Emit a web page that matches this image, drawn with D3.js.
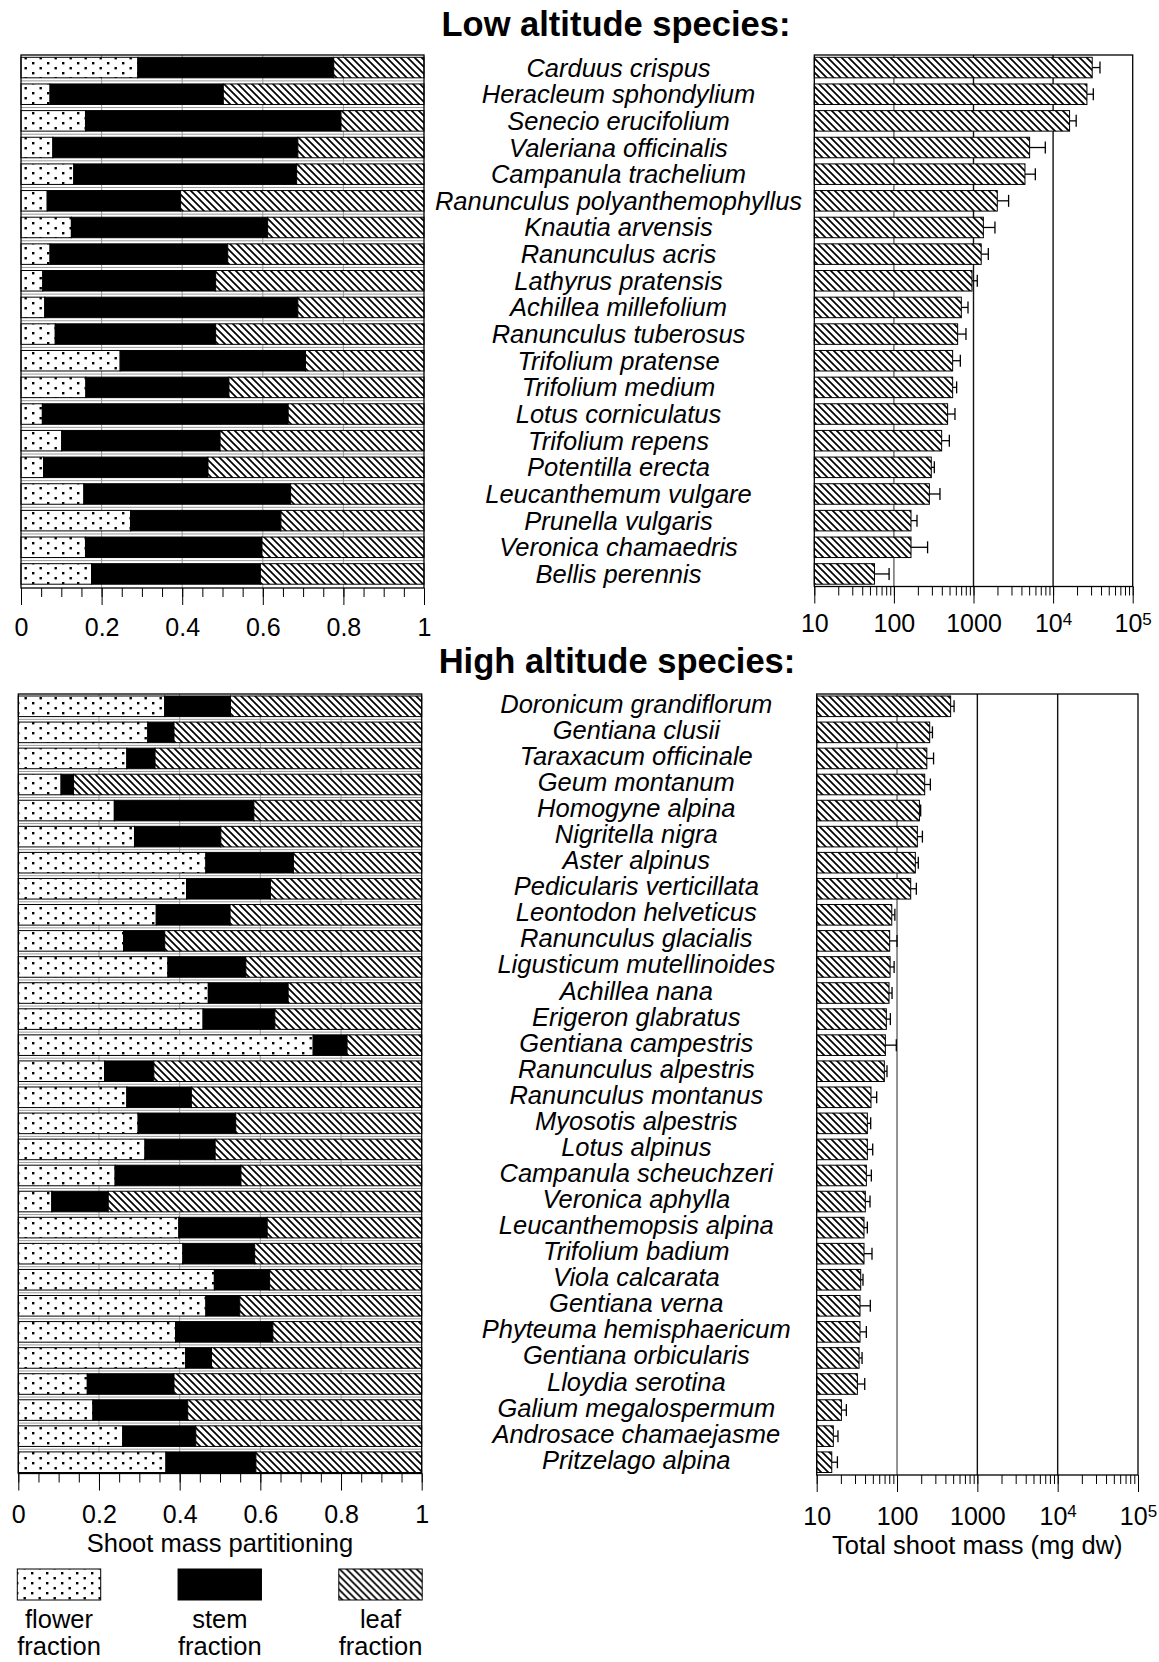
<!DOCTYPE html>
<html>
<head>
<meta charset="utf-8">
<script src="https://cdn.jsdelivr.net/npm/d3@7"></script>
<style>
  body { margin: 0; background: #fff; }
  svg text { font-family: "Liberation Sans", Arial, Helvetica, sans-serif; fill: #000; }
</style>
</head>
<body>
<div id="chart"></div>
<script>
/* ---- data: low altitude species ---- */
var lowNames = ["Carduus crispus", "Heracleum sphondylium", "Senecio erucifolium", "Valeriana officinalis",
  "Campanula trachelium", "Ranunculus polyanthemophyllus", "Knautia arvensis", "Ranunculus acris",
  "Lathyrus pratensis", "Achillea millefolium", "Ranunculus tuberosus", "Trifolium pratense",
  "Trifolium medium", "Lotus corniculatus", "Trifolium repens", "Potentilla erecta",
  "Leucanthemum vulgare", "Prunella vulgaris", "Veronica chamaedris", "Bellis perennis"];
var lowFlower = [0.290, 0.072, 0.160, 0.079, 0.131, 0.065, 0.125, 0.072, 0.054, 0.059,
  0.085, 0.246, 0.161, 0.053, 0.101, 0.056, 0.156, 0.272, 0.160, 0.175];
var lowStem = [0.486, 0.430, 0.634, 0.608, 0.553, 0.331, 0.487, 0.441, 0.429, 0.628,
  0.398, 0.460, 0.355, 0.610, 0.393, 0.408, 0.513, 0.373, 0.438, 0.419];
var lowLeaf = [0.224, 0.498, 0.206, 0.313, 0.316, 0.604, 0.388, 0.487, 0.517, 0.313,
  0.517, 0.294, 0.484, 0.337, 0.506, 0.536, 0.331, 0.355, 0.402, 0.406];
var lowMass = [31000, 26600, 16100, 5070, 4430, 1990, 1330, 1250, 957, 703,
  632, 547, 547, 473, 398, 295, 279, 164, 164, 57];
var lowMassHi = [38800, 32000, 19500, 7980, 5980, 2760, 1860, 1535, 1116, 853,
  804, 683, 614, 585, 497, 322, 379, 195, 265, 87];

/* ---- data: high altitude species ---- */
var highNames = ["Doronicum grandiflorum", "Gentiana clusii", "Taraxacum officinale", "Geum montanum",
  "Homogyne alpina", "Nigritella nigra", "Aster alpinus", "Pedicularis verticillata",
  "Leontodon helveticus", "Ranunculus glacialis", "Ligusticum mutellinoides", "Achillea nana",
  "Erigeron glabratus", "Gentiana campestris", "Ranunculus alpestris", "Ranunculus montanus",
  "Myosotis alpestris", "Lotus alpinus", "Campanula scheuchzeri", "Veronica aphylla",
  "Leucanthemopsis alpina", "Trifolium badium", "Viola calcarata", "Gentiana verna",
  "Phyteuma hemisphaericum", "Gentiana orbicularis", "Lloydia serotina", "Galium megalospermum",
  "Androsace chamaejasme", "Pritzelago alpina"];
var highFlower = [0.363, 0.321, 0.269, 0.106, 0.238, 0.288, 0.465, 0.417, 0.342, 0.261,
  0.371, 0.471, 0.458, 0.731, 0.214, 0.269, 0.297, 0.314, 0.240, 0.083,
  0.398, 0.408, 0.486, 0.465, 0.390, 0.415, 0.171, 0.185, 0.259, 0.366];
var highStem = [0.163, 0.065, 0.070, 0.031, 0.346, 0.214, 0.217, 0.208, 0.183, 0.102,
  0.193, 0.198, 0.178, 0.084, 0.122, 0.160, 0.242, 0.174, 0.312, 0.140,
  0.219, 0.178, 0.137, 0.084, 0.241, 0.064, 0.215, 0.235, 0.181, 0.223];
var highLeaf = [0.474, 0.614, 0.661, 0.863, 0.416, 0.498, 0.318, 0.375, 0.475, 0.637,
  0.436, 0.331, 0.364, 0.185, 0.664, 0.571, 0.461, 0.512, 0.448, 0.777,
  0.383, 0.414, 0.377, 0.451, 0.369, 0.521, 0.614, 0.580, 0.560, 0.411];
var highMass = [465, 255, 235, 221, 190, 179, 169, 148, 86, 81,
  82, 79.5, 73.6, 71.6, 69.5, 47.4, 42.7, 42.7, 41.5, 40.3,
  38.8, 38.8, 35.3, 34.6, 34.6, 33.7, 32.1, 20.3, 16.1, 15.4];
var highMassHi = [513, 276, 285, 260, 197, 207, 184, 174, 94, 100,
  92, 86.7, 82.6, 98, 75, 55.8, 47, 49.8, 47.9, 46.1,
  42.7, 48.8, 37.7, 46.5, 41.5, 36.7, 39.6, 23.4, 18.4, 18.1];

/* ---- ticks and legend ---- */
var fractionTicks = [0, 0.2, 0.4, 0.6, 0.8, 1];
var massTicks = [10, 100, 1000, 1e4, 1e5];
var massGrid = [100, 1000, 1e4];
var partKeys = ["flower", "stem", "leaf"];
var legendLines = [["flower", "fraction"], ["stem", "fraction"], ["leaf", "fraction"]];

var width = 1159, height = 1662;
var fills = ["url(#dots)", "#000", "url(#hatch)"];

var svg = d3.select("#chart").append("svg")
    .attr("width", width)
    .attr("height", height);

/* Patterns: dotted flower, diagonal hatch leaf */
var defs = svg.append("defs");
var dots = defs.append("pattern")
    .attr("id", "dots")
    .attr("patternUnits", "userSpaceOnUse")
    .attr("width", 15)
    .attr("height", 10);
dots.append("rect").attr("width", 15).attr("height", 10).attr("fill", "#fff");
dots.append("rect").attr("x", 2).attr("y", 2).attr("width", 2.4).attr("height", 2.4).attr("fill", "#000");
dots.append("rect").attr("x", 9.5).attr("y", 7).attr("width", 2.4).attr("height", 2.4).attr("fill", "#000");

var hatch = defs.append("pattern")
    .attr("id", "hatch")
    .attr("patternUnits", "userSpaceOnUse")
    .attr("width", 7)
    .attr("height", 7);
hatch.append("rect").attr("width", 7).attr("height", 7).attr("fill", "#fff");
hatch.append("path")
    .attr("d", "M-1,-1 L8,8 M-1,6 L1,8 M6,-1 L8,1")
    .attr("stroke", "#000")
    .attr("stroke-width", 1.7);

function styleAxis(g) {
    g.select(".domain").remove();
    g.attr("font-size", 25)
     .attr("font-family", "'Liberation Sans', Arial, sans-serif");
}

/* Draws one panel pair (partitioning + total mass) */
function section(cfg, names, flower, stem, leaf, mass, massHi) {
    var g = svg.append("g");

    var rows = names.map(function (n, i) {
        return { name: n, flower: flower[i], stem: stem[i], leaf: leaf[i], mass: mass[i], hi: massHi[i] };
    });

    var y = d3.scaleBand()
        .domain(names)
        .range([cfg.bandTop, cfg.bandBottom])
        .paddingInner(cfg.padIn)
        .paddingOuter(cfg.padOut);
    var xl = d3.scaleLinear().domain([0, 1]).range(cfg.leftRange);
    var xr = d3.scaleLog().domain([10, 1e5]).range(cfg.rightRange);

    /* Title */
    g.append("text")
        .attr("x", cfg.titleX)
        .attr("y", cfg.titleY)
        .attr("text-anchor", "middle")
        .style("font-size", "34.5px")
        .style("font-weight", "bold")
        .text(cfg.title);

    /* ---------- left: shoot mass partitioning ---------- */
    var left = g.append("g");

    left.selectAll("line.grid")
        .data(fractionTicks.slice(1, -1))
        .join("line")
        .attr("class", "grid")
        .attr("x1", function (d) { return xl(d); })
        .attr("x2", function (d) { return xl(d); })
        .attr("y1", cfg.frameTop)
        .attr("y2", cfg.leftAxisY)
        .attr("stroke", "#999")
        .attr("stroke-width", 1);

    var gap = (y.step() - y.bandwidth()) / 2;
    left.selectAll("line.sep")
        .data(names.slice(1))
        .join("line")
        .attr("class", "sep")
        .attr("x1", xl(0))
        .attr("x2", xl(1))
        .attr("y1", function (d) { return y(d) - gap; })
        .attr("y2", function (d) { return y(d) - gap; })
        .attr("stroke", "#999")
        .attr("stroke-width", 1);

    var stacked = d3.stack().keys(partKeys)(rows);
    left.selectAll("g.layer")
        .data(stacked)
        .join("g")
        .attr("class", "layer")
        .attr("fill", function (d, i) { return fills[i]; })
        .selectAll("rect")
        .data(function (d) { return d; })
        .join("rect")
        .attr("x", function (d) { return xl(d[0]); })
        .attr("width", function (d) { return xl(d[1]) - xl(d[0]); })
        .attr("y", function (d) { return y(d.data.name); })
        .attr("height", y.bandwidth())
        .attr("stroke", "#000")
        .attr("stroke-width", 1);

    left.append("rect")
        .attr("x", xl(0))
        .attr("y", cfg.frameTop)
        .attr("width", xl(1) - xl(0))
        .attr("height", cfg.leftAxisY - cfg.frameTop)
        .attr("fill", "none")
        .attr("stroke", "#000")
        .attr("stroke-width", 1.3);

    left.append("g")
        .attr("transform", "translate(0," + cfg.leftAxisY + ")")
        .call(d3.axisBottom(xl).ticks(20).tickSize(9).tickFormat(""))
        .call(styleAxis);

    left.append("g")
        .attr("transform", "translate(0," + cfg.leftAxisY + ")")
        .call(d3.axisBottom(xl)
            .tickValues(fractionTicks)
            .tickSize(17)
            .tickPadding(cfg.leftLabelBase - cfg.leftAxisY - 17.75 - 17)
            .tickFormat(function (d) { return String(+d.toFixed(1)); }))
        .call(styleAxis);

    /* ---------- names ---------- */
    g.append("g").selectAll("text")
        .data(names)
        .join("text")
        .attr("x", cfg.nameX)
        .attr("y", function (d) { return y(d) + y.bandwidth() / 2 + cfg.nameDy; })
        .attr("text-anchor", "middle")
        .style("font-size", "25.5px")
        .style("font-style", "italic")
        .text(function (d) { return d; });

    /* ---------- right: total shoot mass ---------- */
    var right = g.append("g");

    right.selectAll("line.grid")
        .data(massGrid)
        .join("line")
        .attr("class", "grid")
        .attr("x1", function (d) { return xr(d); })
        .attr("x2", function (d) { return xr(d); })
        .attr("y1", cfg.frameTop)
        .attr("y2", cfg.rightAxisY)
        .attr("stroke", function (d) { return d === 100 ? "#666" : "#111"; })
        .attr("stroke-width", 1.4);

    right.selectAll("rect.bar")
        .data(rows)
        .join("rect")
        .attr("class", "bar")
        .attr("x", xr(10))
        .attr("y", function (d) { return y(d.name); })
        .attr("width", function (d) { return xr(d.mass) - xr(10); })
        .attr("height", y.bandwidth())
        .attr("fill", "url(#hatch)")
        .attr("stroke", "#000")
        .attr("stroke-width", 1);

    var err = right.selectAll("g.err")
        .data(rows)
        .join("g")
        .attr("class", "err")
        .attr("stroke", "#000")
        .attr("stroke-width", 1.3);
    err.append("line")
        .attr("x1", function (d) { return xr(d.mass); })
        .attr("x2", function (d) { return xr(d.hi); })
        .attr("y1", function (d) { return y(d.name) + y.bandwidth() / 2; })
        .attr("y2", function (d) { return y(d.name) + y.bandwidth() / 2; });
    err.append("line")
        .attr("x1", function (d) { return xr(d.hi); })
        .attr("x2", function (d) { return xr(d.hi); })
        .attr("y1", function (d) { return y(d.name) + y.bandwidth() / 2 - 6; })
        .attr("y2", function (d) { return y(d.name) + y.bandwidth() / 2 + 6; });

    right.append("rect")
        .attr("x", xr(10))
        .attr("y", cfg.frameTop)
        .attr("width", xr(1e5) - xr(10))
        .attr("height", cfg.rightAxisY - cfg.frameTop)
        .attr("fill", "none")
        .attr("stroke", "#000")
        .attr("stroke-width", 1.3);

    right.append("g")
        .attr("transform", "translate(0," + cfg.rightAxisY + ")")
        .call(d3.axisBottom(xr).tickValues(xr.ticks()).tickSize(9).tickFormat(""))
        .call(styleAxis);

    right.append("g")
        .attr("transform", "translate(0," + cfg.rightAxisY + ")")
        .call(d3.axisBottom(xr)
            .tickValues(massTicks)
            .tickSize(17)
            .tickPadding(cfg.rightLabelBase - cfg.rightAxisY - 17.75 - 17)
            .tickFormat(function (d) { return String(d); }))
        .call(styleAxis)
        .call(function (a) {
            /* powers of ten as superscripts */
            a.selectAll("text").each(function (d) {
                if (d < 1e4) return;
                var t = d3.select(this).text(null);
                t.append("tspan").text("10");
                t.append("tspan")
                    .attr("dy", "-0.42em")
                    .style("font-size", "17px")
                    .text(Math.round(Math.log10(d)));
            });
        });

    if (cfg.axisTitles) {
        g.append("text")
            .attr("x", (cfg.leftRange[0] + cfg.leftRange[1]) / 2)
            .attr("y", cfg.leftTitleBase)
            .attr("text-anchor", "middle")
            .style("font-size", "25.5px")
            .text("Shoot mass partitioning");
        g.append("text")
            .attr("x", (cfg.rightRange[0] + cfg.rightRange[1]) / 2)
            .attr("y", cfg.rightTitleBase)
            .attr("text-anchor", "middle")
            .style("font-size", "25.5px")
            .text("Total shoot mass (mg dw)");
    }
}

section({
    title: "Low altitude species:", titleX: 616, titleY: 36,
    bandTop: 56.5, bandBottom: 585, padIn: 0.23, padOut: 0.03,
    frameTop: 55, leftAxisY: 588, rightAxisY: 586.5,
    leftRange: [21, 424], rightRange: [814.3, 1132.7],
    leftLabelBase: 636, rightLabelBase: 632,
    nameX: 618.5, nameDy: 9, axisTitles: false
}, lowNames, lowFlower, lowStem, lowLeaf, lowMass, lowMassHi);

section({
    title: "High altitude species:", titleX: 617, titleY: 673,
    bandTop: 696, bandBottom: 1472.5, padIn: 0.21, padOut: 0,
    frameTop: 694, leftAxisY: 1473.5, rightAxisY: 1475,
    leftRange: [18.3, 421.7], rightRange: [816.7, 1138],
    leftLabelBase: 1523, rightLabelBase: 1524.5,
    nameX: 636.3, nameDy: 6.5, axisTitles: true,
    leftTitleBase: 1552, rightTitleBase: 1554
}, highNames, highFlower, highStem, highLeaf, highMass, highMassHi);

/* ---------- legend ---------- */
var lx = d3.scalePoint().domain(partKeys).range([59, 380.5]);
var legend = svg.append("g").selectAll("g")
    .data(partKeys)
    .join("g")
    .attr("transform", function (d) { return "translate(" + lx(d) + ",0)"; });
legend.append("rect")
    .attr("x", -41.7)
    .attr("y", 1569)
    .attr("width", 83.4)
    .attr("height", 31)
    .attr("fill", function (d, i) { return fills[i]; })
    .attr("stroke", "#000")
    .attr("stroke-width", 1);
legend.append("text")
    .attr("text-anchor", "middle")
    .style("font-size", "25.5px")
    .selectAll("tspan")
    .data(function (d, i) { return legendLines[i]; })
    .join("tspan")
    .attr("x", 0)
    .attr("y", function (d, i) { return 1628 + i * 27; })
    .text(function (d) { return d; });
</script>
</body>
</html>
